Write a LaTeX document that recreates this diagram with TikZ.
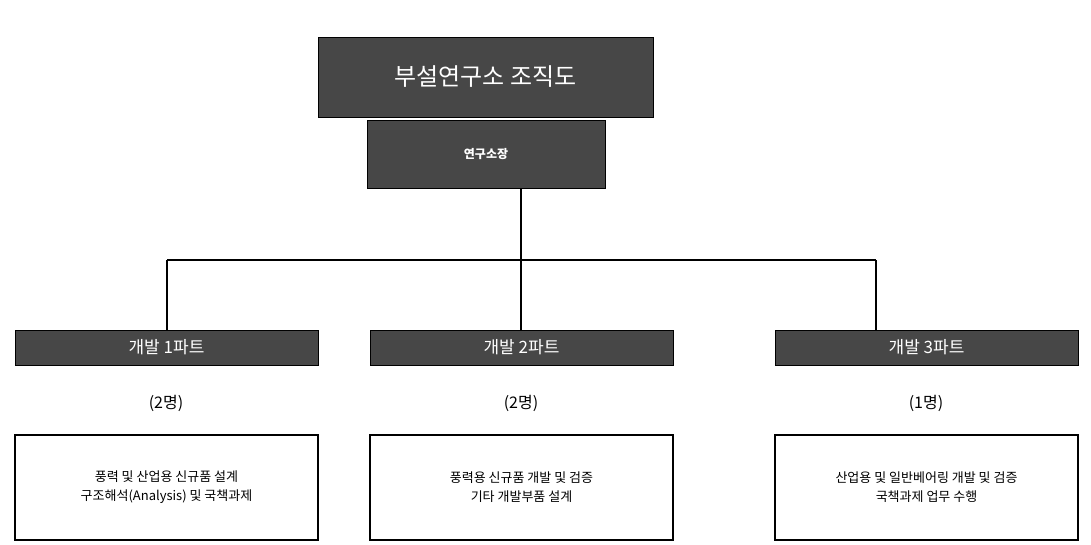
\documentclass[tikz,border=0pt]{standalone}
\usepackage{fontspec}
\setmainfont{Noto Sans CJK KR}
\begin{document}
\begin{tikzpicture}[x=1pt,y=-1pt,
 dk/.style={draw=black,fill=black!72,text=white,inner sep=0pt},
 wb/.style={draw=black,line width=1.2pt,fill=white,align=center,inner sep=0pt,font=\fontsize{13}{19}\selectfont},
 ln/.style={line width=1.5pt}]
\useasboundingbox (0,0) rectangle (1091,544);
\node[dk,minimum width=335,minimum height=80,font=\fontsize{24}{28}\selectfont] (t) at (485.5,77) {부설연구소 조직도};
\node[dk,minimum width=238,minimum height=68,font=\bfseries\fontsize{12}{14}\selectfont] (d) at (486,154) {연구소장};
\node[dk,minimum width=303,minimum height=35,font=\fontsize{17}{19}\selectfont] (p1) at (166.5,347.5) {개발 1파트};
\node[dk,minimum width=303,minimum height=35,font=\fontsize{17}{19}\selectfont] (p2) at (521.5,347.5) {개발 2파트};
\node[dk,minimum width=303,minimum height=35,font=\fontsize{17}{19}\selectfont] (p3) at (926.5,347.5) {개발 3파트};
\coordinate (j) at (521,260);
\coordinate (l) at (167,260);
\coordinate (r) at (876,260);
\draw[ln] (521,188) -- (j);
\draw[ln] (l) -- (r);
\draw[ln] (l) -- (167,330);
\draw[ln] (j) -- (521,330);
\draw[ln] (r) -- (876,330);
\node[font=\fontsize{16}{18}\selectfont] (n1) at (166,403) {(2명)};
\node[font=\fontsize{16}{18}\selectfont] (n2) at (521,403) {(2명)};
\node[font=\fontsize{16}{18}\selectfont] (n3) at (926,403) {(1명)};
\node[wb,minimum width=303,minimum height=105] (b1) at (166.5,487.5) {풍력 및 산업용 신규품 설계\\구조해석(Analysis) 및 국책과제};
\node[wb,minimum width=303,minimum height=105] (b2) at (521.5,487.5) {풍력용 신규품 개발 및 검증\\기타 개발부품 설계};
\node[wb,minimum width=303,minimum height=105] (b3) at (926.5,487.5) {산업용 및 일반베어링 개발 및 검증\\국책과제 업무 수행};
\end{tikzpicture}
\end{document}
